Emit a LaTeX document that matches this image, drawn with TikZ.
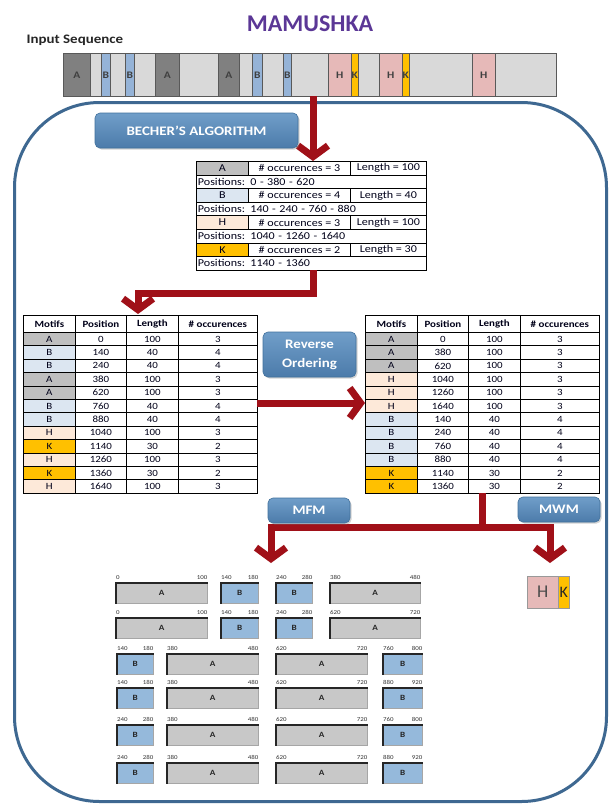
\documentclass[tikz,border=0pt]{standalone}
\usepackage{fontspec}
\setmainfont{Carlito}
\newfontfamily\calx[FakeStretch=1.15]{Carlito}
\usetikzlibrary{arrows.meta,shadows}

\definecolor{darkred}{RGB}{160,16,24}
\definecolor{framec}{RGB}{62,104,145}
\definecolor{boxtop}{RGB}{112,158,201}
\definecolor{boxbot}{RGB}{76,123,170}
\definecolor{boxline}{RGB}{65,113,156}
\definecolor{titlec}{RGB}{91,55,150}
\definecolor{seqbg}{RGB}{217,217,217}
\definecolor{sA}{RGB}{128,128,128}
\definecolor{sB}{RGB}{149,179,215}
\definecolor{sH}{RGB}{230,185,184}
\definecolor{sK}{RGB}{255,192,0}
\definecolor{tA}{RGB}{191,191,191}
\definecolor{tB}{RGB}{220,230,241}
\definecolor{tH}{RGB}{253,233,217}
\definecolor{tK}{RGB}{255,192,0}
\definecolor{barA}{RGB}{200,200,200}
\definecolor{barB}{RGB}{149,185,219}

\tikzset{
  cell/.style={draw=black, line width=0.8pt, inner sep=0pt, anchor=north west, minimum height=13.4pt, font=\calx\fontsize{9.5}{10}\selectfont, text=black!90!blue},
  hcell/.style={cell, minimum height=17pt, font=\calx\bfseries\fontsize{9.5}{10}\selectfont},
  bcell/.style={draw=black, line width=0.8pt, inner sep=0pt, anchor=north west, minimum height=13.6pt, font=\calx\fontsize{10.5}{10.5}\selectfont, text=black!90!blue},
  bluebox/.style={draw=boxline, line width=0.6pt, rounded corners=5pt, top color=boxtop, bottom color=boxbot, text=white, font=\calx\bfseries\fontsize{13}{19}\selectfont, align=center, inner sep=0pt, drop shadow={opacity=0.35, shadow xshift=1.5pt, shadow yshift=-1.5pt}},
  redarrow/.style={draw=darkred, line width=7pt, line join=miter, -{Straight Barb[length=11pt,width=30pt]}},
  seg/.style={draw=black!65, line width=0.6pt, inner sep=0pt, anchor=north west, minimum height=43pt, font=\calx\bfseries\fontsize{10}{10}\selectfont, text=black!75},
  barbox/.style={draw=black!35, line width=0.5pt, inner sep=0pt, anchor=north west, minimum height=20pt, font=\calx\bfseries\fontsize{8}{8}\selectfont, text=black!85},
  blab/.style={inner sep=0pt, font=\calx\fontsize{6}{6}\selectfont, text=black!80},
}

\newcommand\motiftable[3]{%
  \node[hcell, minimum width=52pt] (#1h1) at (#2,315) {Motifs};
  \node[hcell, minimum width=51pt] (#1h2) at (#2+52,315) {Position};
  \node[hcell, minimum width=52pt] (#1h3) at (#2+103,315) {Length};
  \node[hcell, minimum width=79pt] (#1h4) at (#2+155,315) {\# occurences};
  \foreach \m/\p/\l/\o [count=\i] in {#3}{%
    \pgfmathsetmacro\yy{332+(\i-1)*13.4}%
    \node[cell, fill=t\m, minimum width=52pt] (#1m\i) at (#2,\yy) {\m};
    \node[cell, minimum width=51pt] (#1p\i) at (#2+52,\yy) {\p};
    \node[cell, minimum width=52pt] (#1l\i) at (#2+103,\yy) {\l};
    \node[cell, minimum width=79pt] (#1o\i) at (#2+155,\yy) {\o};
  }%
}

\newcommand\segbar[8]{%
  \node[barbox, fill=#6, minimum width={(#3-#2)*1pt}] (#1) at (#2,#4) {#5};
  \draw[line width=1.6pt, black!85] (#1.south west) -- (#1.north west) -- (#1.north east);
  \node[blab, anchor=south west] (#1a) at ([yshift=3pt]#1.north west) {#7};
  \node[blab, anchor=south east] (#1b) at ([yshift=3pt]#1.north east) {#8};
}

\begin{document}
\begin{tikzpicture}[x=1pt,y=-1pt]
\useasboundingbox (0,0) rectangle (613,804);
\fill[white] (0,0) rectangle (613,804);

% frame
\node[draw=framec, line width=3pt, rounded corners=85pt, minimum width=592pt, minimum height=699pt, anchor=north west, inner sep=0pt] (frame) at (13,101) {};

% title
\node[font=\bfseries\fontsize{24}{24}\selectfont, text=titlec] (title) at (310,24) {MAMUSHKA};
\node[anchor=west, font=\calx\bfseries\fontsize{13}{13}\selectfont, text=black!85] (inseq) at (23,40) {Input Sequence};

% input sequence
\node[seg, fill=seqbg, minimum width=493pt] (seq) at (63,53) {};
\foreach \a/\b/\t/\c [count=\i] in {63/90/A/sA,101/110/B/sB,125/134/B/sB,155/179/A/sA,218/239/A/sA,252/262/B/sB,283/291/B/sB,328/351/H/sH,351/358/K/sK,379/402/H/sH,402/409/K/sK,472/495/H/sH}
  \node[seg, fill=\c, minimum width={(\b-\a)*1pt}] (sg\i) at (\a,53) {\t};

% Becher table
\foreach \m/\o/\l/\p [count=\i] in {A/3/100/{0 - 380 - 620}, B/4/40/{140 - 240 - 760 - 880}, H/3/100/{1040 - 1260 - 1640}, K/2/30/{1140 - 1360}}{
  \pgfmathsetmacro\ya{161+(\i-1)*27.2}
  \pgfmathsetmacro\yb{\ya+13.6}
  \node[bcell, fill=t\m, minimum width=52pt] (bm\i) at (196,\ya) {\m};
  \node[bcell, minimum width=102pt] (bo\i) at (248,\ya) {\# occurences = \o};
  \node[bcell, minimum width=76pt] (bl\i) at (350,\ya) {Length = \l};
  \node[bcell, minimum width=230pt, text width=227pt, align=left] (bp\i) at (196,\yb) {Positions: \p};
}

% motif tables
\motiftable{L}{23}{A/0/100/3, B/140/40/4, B/240/40/4, A/380/100/3, A/620/100/3, B/760/40/4, B/880/40/4, H/1040/100/3, K/1140/30/2, H/1260/100/3, K/1360/30/2, H/1640/100/3}
\motiftable{R}{365}{A/0/100/3, A/380/100/3, A/620/100/3, H/1040/100/3, H/1260/100/3, H/1640/100/3, B/140/40/4, B/240/40/4, B/760/40/4, B/880/40/4, K/1140/30/2, K/1360/30/2}

% arrows
\coordinate (seqout) at (313,96);
\coordinate (becherin) at (313,161);
\coordinate (becherout) at (313,270);
\coordinate (ltin) at (138,314);
\coordinate (ltout) at (257,403);
\coordinate (rtin) at (365,403);
\coordinate (rtout) at (482,493);
\coordinate (split) at (482,527);
\coordinate (mfmin) at (271,563);
\coordinate (mwmin) at (550,563);
\draw[redarrow] (seqout) -- (becherin);
\draw[redarrow] (becherout) -- ++(0,23) -| (ltin);
\draw[redarrow] (ltout) -- (rtin);
\draw[redarrow] (rtout) -- (split) -| (mfmin);
\draw[redarrow] (split) -| (mwmin);

% blue boxes
\node[bluebox, minimum width=203pt, minimum height=35pt] (becher) at (196.5,130.5) {BECHER’S ALGORITHM};
\node[bluebox, minimum width=93pt, minimum height=45pt] (rev) at (309.5,354.5) {Reverse\\Ordering};
\node[bluebox, minimum width=82pt, minimum height=25pt] (mfm) at (309,510.5) {MFM};
\node[bluebox, minimum width=82pt, minimum height=25pt] (mwm) at (559,509.5) {MWM};

% MWM result
\node[draw=black!40, fill=sH, minimum width=31pt, minimum height=32pt, anchor=north west, inner sep=0pt, font=\fontsize{18}{18}\selectfont, text=black!70] (hbox) at (527,576) {H};
\node[draw=black!40, fill=sK, minimum width=11pt, minimum height=32pt, anchor=north west, inner sep=0pt, font=\fontsize{16}{16}\selectfont, text=black!85] (kbox) at (558,576) {K};

% MFM result bars
\segbar{r1a}{116}{207}{583}{A}{barA}{0}{100}
\segbar{r1b}{221}{258}{583}{B}{barB}{140}{180}
\segbar{r1c}{276}{312}{583}{B}{barB}{240}{280}
\segbar{r1d}{330}{420}{583}{A}{barA}{380}{480}

\segbar{r2a}{116}{207}{618}{A}{barA}{0}{100}
\segbar{r2b}{221}{258}{618}{B}{barB}{140}{180}
\segbar{r2c}{276}{312}{618}{B}{barB}{240}{280}
\segbar{r2d}{330}{420}{618}{A}{barA}{620}{720}

\segbar{r3a}{117}{153}{654}{B}{barB}{140}{180}
\segbar{r3b}{167}{258}{654}{A}{barA}{380}{480}
\segbar{r3c}{276}{367}{654}{A}{barA}{620}{720}
\segbar{r3d}{383}{422}{654}{B}{barB}{760}{800}

\segbar{r4a}{117}{153}{688}{B}{barB}{140}{180}
\segbar{r4b}{167}{258}{688}{A}{barA}{380}{480}
\segbar{r4c}{276}{367}{688}{A}{barA}{620}{720}
\segbar{r4d}{383}{422}{688}{B}{barB}{880}{920}

\segbar{r5a}{117}{153}{725}{B}{barB}{240}{280}
\segbar{r5b}{167}{258}{725}{A}{barA}{380}{480}
\segbar{r5c}{276}{367}{725}{A}{barA}{620}{720}
\segbar{r5d}{383}{422}{725}{B}{barB}{760}{800}

\segbar{r6a}{117}{153}{763}{B}{barB}{240}{280}
\segbar{r6b}{167}{258}{763}{A}{barA}{380}{480}
\segbar{r6c}{276}{367}{763}{A}{barA}{620}{720}
\segbar{r6d}{383}{422}{763}{B}{barB}{880}{920}
\end{tikzpicture}
\end{document}
